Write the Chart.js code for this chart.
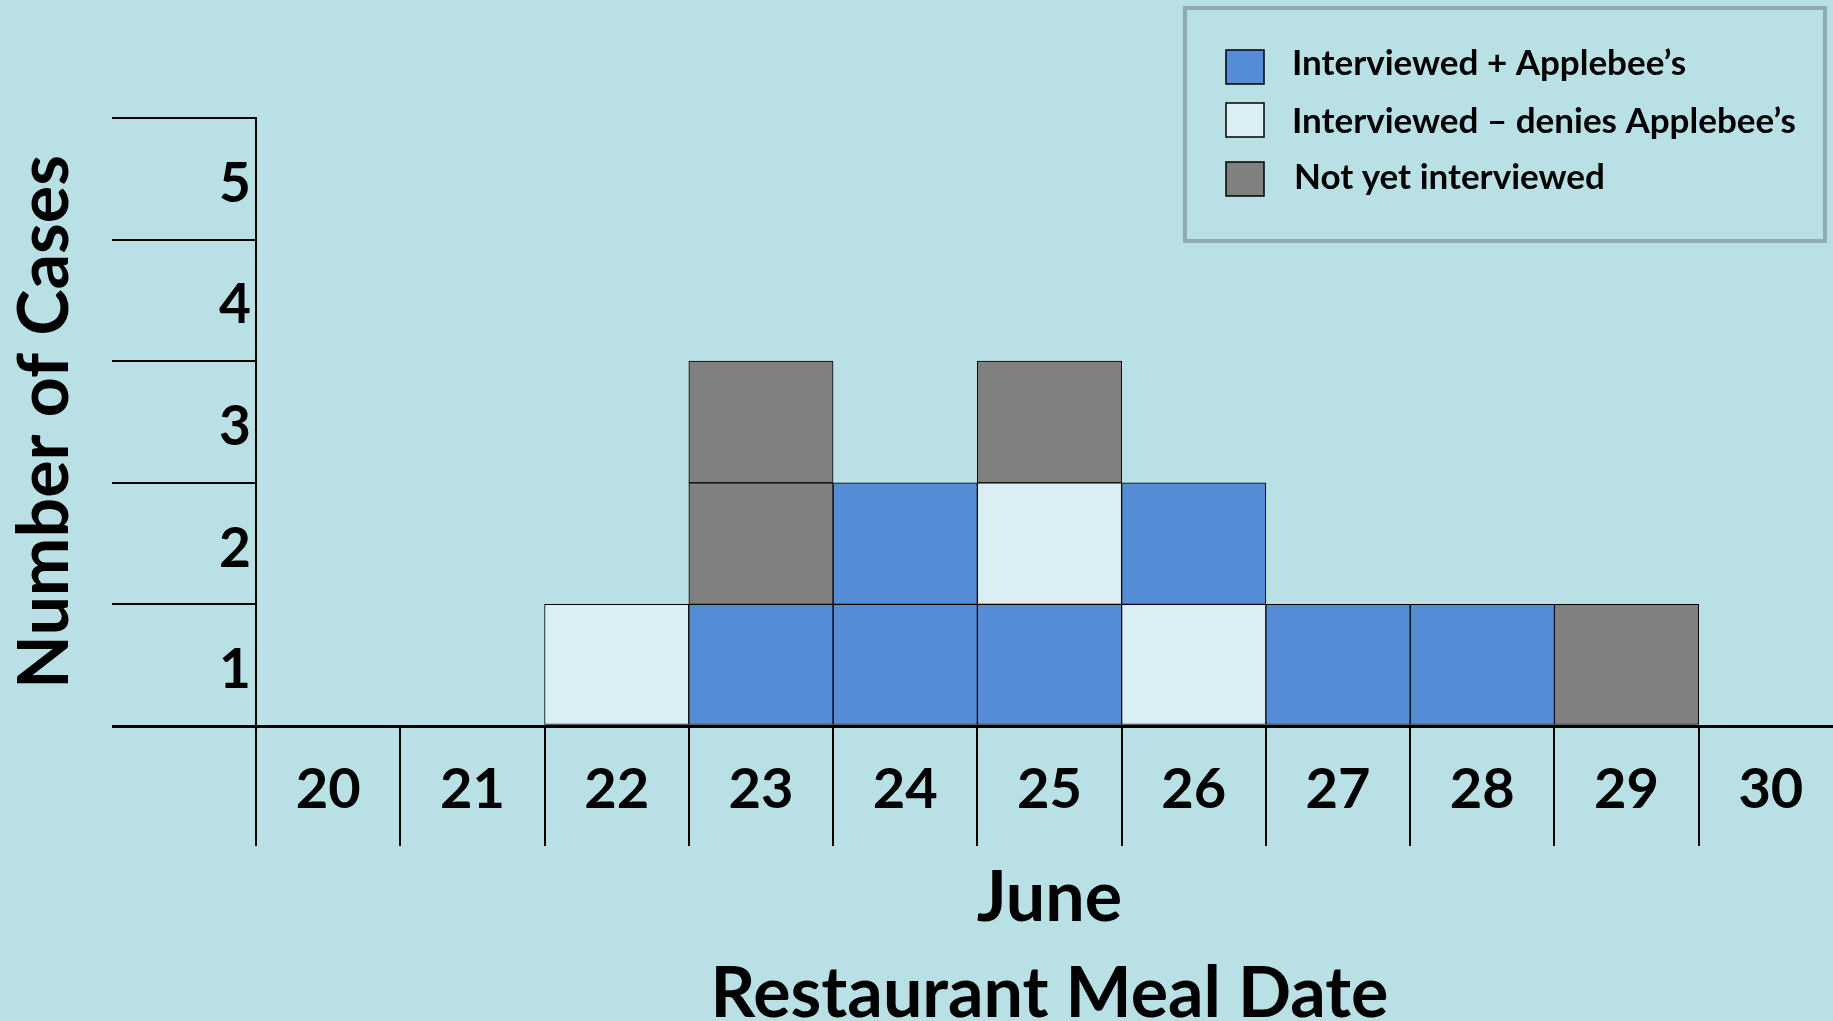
<!DOCTYPE html>
<html>
<head>
<meta charset="utf-8">
<script src="https://cdn.jsdelivr.net/npm/chart.js@4.4.1/dist/chart.umd.min.js"></script>
<style>
  html, body { margin: 0; padding: 0; background: #B9E0E4; overflow: hidden; width: 1833px; height: 1021px; }
  #wrap { position: absolute; left: 0; top: 0; width: 1843px; height: 1021px; }
</style>
</head>
<body>
<div id="wrap"><canvas id="c" width="1843" height="1021"></canvas></div>
<script>
// ---- data ----
const days = ['20', '21', '22', '23', '24', '25', '26', '27', '28', '29', '30'];
const yTickLabels = ['1', '2', '3', '4', '5'];
const seriesNames = ['Interviewed + Applebee\u2019s', 'Interviewed \u2013 denies Applebee\u2019s', 'Not yet interviewed'];
const seriesColors = ['#548DD6', '#DAEEF3', '#808080'];
const interviewedApplebees = [0, 0, 0, 1, 2, 1, 1, 1, 1, 0, 0];
const interviewedDenies    = [0, 0, 1, 0, 0, 1, 1, 0, 0, 0, 0];
const notYetInterviewed    = [0, 0, 0, 2, 0, 1, 0, 0, 0, 1, 0];
// bottom-to-top order in which the series' case cells are stacked on each day
const stackOrder = [
  [0, 1, 2], [0, 1, 2], [0, 1, 2], [0, 1, 2], [0, 1, 2], [0, 1, 2],
  [1, 0, 2], [0, 1, 2], [0, 1, 2], [0, 1, 2], [0, 1, 2]
];
const xTitle = ['June', 'Restaurant Meal Date'];
const yTitle = 'Number of Cases';

// ---- build one bar element per case (each case is a unit cell) ----
const seriesValues = [interviewedApplebees, interviewedDenies, notYetInterviewed];
const cells = days.map((d, i) => {
  const out = [];
  stackOrder[i].forEach(s => { for (let k = 0; k < seriesValues[s][i]; k++) out.push(s); });
  return out;
});
const layers = Math.max(...cells.map(c => c.length));
const datasets = [];
for (let L = 0; L < layers; L++) {
  datasets.push({
    label: 'level ' + (L + 1),
    data: cells.map(c => (c.length > L ? 1 : null)),
    backgroundColor: cells.map(c => (c.length > L ? seriesColors[c[L]] : 'rgba(0,0,0,0)')),
    borderColor: '#000',
    borderWidth: 1,
    borderSkipped: false,
    barPercentage: 1,
    categoryPercentage: 1,
    stack: 'cases'
  });
}

const FONT = 'Lato';
const bgPlugin = {
  id: 'bg',
  beforeDraw(chart) {
    const ctx = chart.ctx;
    ctx.save();
    ctx.fillStyle = '#B9E0E4';
    ctx.fillRect(0, 0, chart.width, chart.height);
    ctx.restore();
  }
};

const legendPlugin = {
  id: 'boxLegend',
  afterDraw(chart) {
    const ctx = chart.ctx;
    ctx.save();
    ctx.lineWidth = 4;
    ctx.strokeStyle = '#8FADB0';
    ctx.strokeRect(1185, 8, 640, 233);
    const boxY = [67, 120, 179];
    const textY = [64, 122, 178];
    seriesNames.forEach((name, i) => {
      const y = boxY[i];
      ctx.fillStyle = seriesColors[i];
      ctx.fillRect(1226, y - 17, 38, 34);
      ctx.lineWidth = 1.5;
      ctx.strokeStyle = '#000';
      ctx.strokeRect(1226, y - 17, 38, 34);
      ctx.fillStyle = '#000';
      ctx.font = 'bold 35px ' + FONT;
      ctx.textAlign = 'left';
      ctx.textBaseline = 'middle';
      ctx.fillText(name, i === 2 ? 1294 : 1292, textY[i]);
    });
    ctx.restore();
  }
};

new Chart(document.getElementById('c'), {
  type: 'bar',
  data: { labels: days, datasets },
  plugins: [bgPlugin, legendPlugin],
  options: {
    responsive: false,
    animation: false,
    layout: { padding: { top: 118, left: 0, right: 0, bottom: 0 } },
    plugins: { legend: { display: false }, tooltip: { enabled: false } },
    scales: {
      x: {
        type: 'category',
        stacked: true,
        offset: true,
        grid: { display: true, offset: true, drawOnChartArea: false, drawTicks: true, tickLength: 120, color: '#000', lineWidth: 2 },
        border: { display: true, color: '#000', width: 3 },
        ticks: { color: '#000', font: { family: FONT, weight: 'bold', size: 56 }, padding: -90, autoSkip: false, maxRotation: 0 },
        title: { display: true, text: xTitle, color: '#000', font: { family: FONT, weight: 'bold', size: 70, lineHeight: 1.37 }, padding: { top: 0, bottom: -21 } },
        afterFit(s) { s.height = 295; }
      },
      y: {
        stacked: true,
        min: 0,
        max: 5,
        grid: {
          display: true, drawOnChartArea: false, drawTicks: true, tickLength: 144, color: '#000',
          lineWidth: c => (c.tick && c.tick.value === 0 ? 3 : 2)
        },
        border: { display: true, color: '#000', width: 2 },
        ticks: {
          stepSize: 1,
          color: '#000',
          font: { family: FONT, weight: 'bold', size: 55 },
          padding: -139,
          labelOffset: 66,
          callback: v => (v === 0 ? '' : yTickLabels[v - 1])
        },
        title: { display: true, text: yTitle, color: '#000', font: { family: FONT, weight: 'bold', size: 70 }, padding: { top: 3, bottom: 0 } },
        afterFit(s) { s.width = 256; }
      }
    }
  }
});
</script>
</body>
</html>
